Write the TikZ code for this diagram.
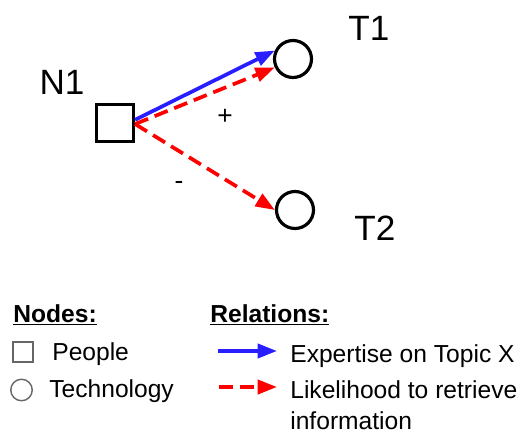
\documentclass[tikz,border=0pt]{standalone}
\usepackage{fontspec}
\setmainfont{Liberation Sans}
\usetikzlibrary{arrows.meta,positioning}
\definecolor{relblue}{RGB}{40,30,255}

\tikzset{
  person/.style={draw,line width=1.8pt,minimum size=0.74cm,inner sep=0pt},
  tech/.style={circle,draw,line width=1.8pt,minimum size=0.74cm,inner sep=0pt},
  keysq/.style={draw=gray!80!black,line width=0.8pt,minimum size=0.4cm,inner sep=0pt},
  keycirc/.style={circle,draw=gray!80!black,line width=0.8pt,minimum size=0.43cm,inner sep=0pt},
  expertise/.style={draw=relblue,line width=2.1pt,-{Triangle[length=11pt,width=8pt]}},
  likely/.style={draw=red,line width=2.1pt,dash pattern=on 8pt off 4pt,-{Triangle[length=11pt,width=8pt]}},
  biglabel/.style={font=\fontsize{20}{22}\selectfont},
  legtext/.style={font=\fontsize{14}{16}\selectfont,anchor=base west,inner sep=0pt},
}

\begin{document}
\begin{tikzpicture}[x=0.02cm,y=-0.02cm]
  \useasboundingbox (0,0) rectangle (525,433);

  % network
  \node[person] (n1) at (115,123) {};
  \node[tech] (t1) at (293,59) {};
  \node[tech] (t2) at (295,210) {};
  \node[biglabel] (n1lbl) at (62,82) {N1};
  \node[biglabel] (t1lbl) at (369,28) {T1};
  \node[biglabel] (t2lbl) at (375,228) {T2};

  \draw[expertise] (n1.9) -- (t1.155);
  \draw[likely] (n1.-3) -- (t1.205);
  \draw[likely] (n1.-3) -- (t2.180);
  \node[font=\fontsize{15}{17}\selectfont] (plus) at (225,117) {+};
  \node[font=\fontsize{15}{17}\selectfont] (minus) at (179,185) {-};

  % legend
  \node[legtext,font=\fontsize{14}{16}\selectfont\bfseries] (nodeshd) at (13,322) {\underline{Nodes:}};
  \node[legtext,font=\fontsize{14}{16}\selectfont\bfseries] (relhd) at (210,322) {\underline{Relations:}};

  \node[keysq] (sqkey) at (23,352) {};
  \node[legtext] (people) at (52,360) {People};
  \node[keycirc] (circkey) at (21.5,390) {};
  \node[legtext] (techno) at (49,397) {Technology};

  \coordinate (expa) at (218,351);
  \coordinate (expb) at (277,351);
  \coordinate (lika) at (219,387);
  \coordinate (likb) at (277,387);
  \draw[expertise] (expa) -- (expb);
  \draw[likely] (lika) -- (likb);
  \node[legtext] (exptxt) at (290,362) {Expertise on Topic X};
  \node[legtext] (liktxt) at (290,398) {Likelihood to retrieve};
  \node[legtext] (inftxt) at (290,429) {information};
\end{tikzpicture}
\end{document}
